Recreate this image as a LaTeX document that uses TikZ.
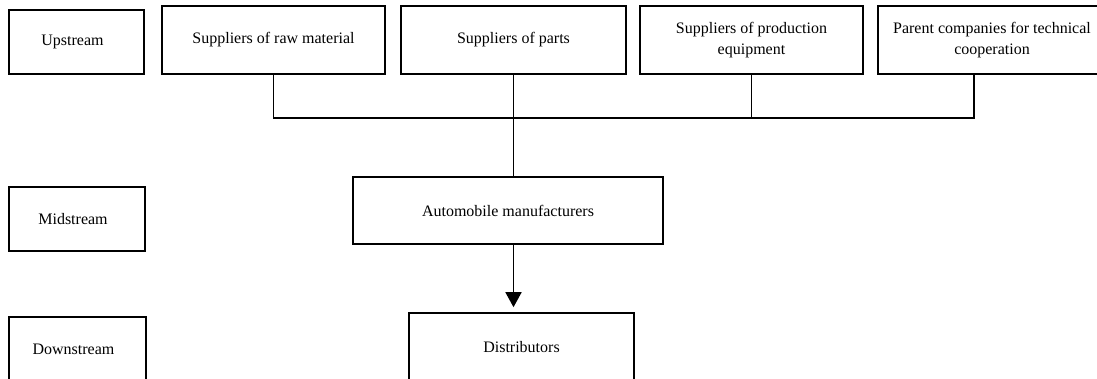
\documentclass[tikz,border=0pt]{standalone}
\usepackage{fontspec}
\setmainfont{Liberation Serif}
\usetikzlibrary{arrows.meta}
\begin{document}
\begin{tikzpicture}[x=1pt,y=-1pt,
  box/.style={draw=black,line width=1.6pt,align=center,inner sep=0pt,
    font=\fontsize{16}{21}\selectfont},
  conn/.style={draw=black,line width=1.6pt},
  arr/.style={conn,-{Triangle[length=15pt,width=16pt]}}]
\useasboundingbox (0,0) rectangle (1097,378);
\clip (0,0) rectangle (1097,378);
\fill[white] (0,0) rectangle (1097,378);
% level labels
\node[box,minimum width=135pt,minimum height=64pt] (up) at (76.5,42) {Upstream\hspace*{8pt}};
\node[box,minimum width=136pt,minimum height=64pt] (mid) at (77,219) {Midstream\hspace*{8pt}};
\node[box,minimum width=137pt,minimum height=64pt] (down) at (77.5,349) {Downstream\hspace*{8pt}};
% upstream suppliers
\node[box,minimum width=223pt,minimum height=68pt] (raw) at (273.5,40) {Suppliers of raw material};
\node[box,minimum width=225pt,minimum height=68pt] (parts) at (513.5,40) {Suppliers of parts};
\node[box,minimum width=223pt,minimum height=68pt] (prod) at (751.5,40) {Suppliers of production\\equipment};
\node[box,minimum width=228pt,minimum height=68pt] (parent) at (992,40) {Parent companies for technical\\cooperation};
% midstream / downstream
\node[box,minimum width=310pt,minimum height=67pt] (auto) at (508,210.5) {Automobile manufacturers};
\node[box,minimum width=225pt,minimum height=69pt] (dist) at (521.5,347.5) {Distributors};
% bus
\coordinate (busL) at (273.5,118);
\coordinate (busR) at (974,118);
\draw[conn] (raw.south) -- (busL) -- (busR) -- (busR |- parent.south);
\draw[conn] (prod.south) -- (prod.south |- busL);
\draw[conn] (parts.south) -- (parts.south |- auto.north);
\draw[arr,shorten >=5pt] (parts.south |- auto.south) -- (parts.south |- dist.north);
\end{tikzpicture}
\end{document}
